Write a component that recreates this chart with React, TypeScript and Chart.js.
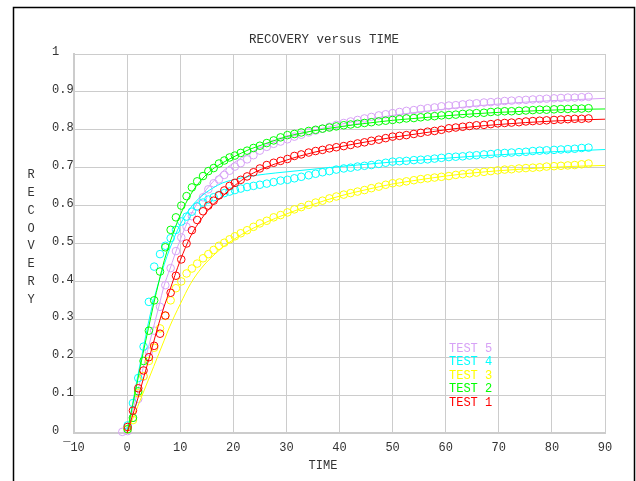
import React, { useEffect, useRef } from "react";
import { Chart, registerables } from "chart.js";

Chart.register(...registerables);

const TITLE = "RECOVERY versus TIME";
const X_TITLE = "TIME";
const Y_TITLE = "RECOVERY";
const X_TICK_LABELS = ["¯10", "0", "10", "20", "30", "40", "50", "60", "70", "80", "90"];
const Y_TICK_LABELS = ["0", "0.1", "0.2", "0.3", "0.4", "0.5", "0.6", "0.7", "0.8", "0.9", "1"];
const LEGEND_NAMES = ["TEST 1", "TEST 2", "TEST 3", "TEST 4", "TEST 5"];

// measured sample times (shared by all tests)
const TIME = [
  -0.9, 0.1, 1.1, 2.1, 3.1, 4.1, 5.1, 6.2, 7.2, 8.2,
  9.2, 10.2, 11.2, 12.2, 13.2, 14.3, 15.3, 16.3, 17.3, 18.3,
  19.3, 20.3, 21.4, 22.6, 23.8, 25.0, 26.3, 27.6, 28.9, 30.2,
  31.5, 32.8, 34.2, 35.5, 36.8, 38.1, 39.4, 40.8, 42.1, 43.4,
  44.7, 46.0, 47.4, 48.7, 50.0, 51.3, 52.6, 54.0, 55.3, 56.6,
  57.9, 59.2, 60.6, 61.9, 63.2, 64.5, 65.8, 67.2, 68.5, 69.8,
  71.1, 72.4, 73.8, 75.1, 76.4, 77.7, 79.0, 80.4, 81.7, 83.0,
  84.3, 85.6, 86.9,
];

const TEST1 = [
  null, 0.016, 0.059, 0.118, 0.165, 0.2, 0.23, 0.262, 0.31, 0.37,
  0.415, 0.458, 0.5, 0.535, 0.562, 0.585, 0.6, 0.613, 0.627, 0.64,
  0.652, 0.66, 0.668, 0.677, 0.688, 0.698, 0.707, 0.713, 0.718, 0.723,
  0.731, 0.735, 0.74, 0.744, 0.747, 0.751, 0.754, 0.757, 0.76, 0.764,
  0.767, 0.771, 0.774, 0.778, 0.782, 0.784, 0.786, 0.789, 0.792, 0.795,
  0.797, 0.8, 0.804, 0.806, 0.808, 0.81, 0.812, 0.813, 0.815, 0.817,
  0.818, 0.819, 0.82, 0.822, 0.823, 0.824, 0.825, 0.826, 0.827, 0.828,
  0.829, 0.829, 0.83,
];
const TEST2 = [
  null, 0.01, 0.04, 0.11, 0.19, 0.27, 0.35, 0.426, 0.49, 0.536,
  0.569, 0.6, 0.625, 0.648, 0.664, 0.678, 0.691, 0.699, 0.711, 0.719,
  0.727, 0.732, 0.739, 0.745, 0.752, 0.758, 0.765, 0.772, 0.78, 0.786,
  0.789, 0.793, 0.797, 0.8, 0.803, 0.806, 0.809, 0.812, 0.814, 0.816,
  0.818, 0.82, 0.822, 0.824, 0.826, 0.828, 0.83, 0.831, 0.833, 0.835,
  0.836, 0.838, 0.839, 0.84, 0.842, 0.843, 0.844, 0.845, 0.847, 0.848,
  0.849, 0.849, 0.85, 0.851, 0.852, 0.853, 0.853, 0.854, 0.855, 0.855,
  0.856, 0.856, 0.857,
];
const TEST3 = [
  null, 0.01, 0.034, 0.105, 0.15, 0.19, 0.225, 0.276, 0.309, 0.35,
  0.382, 0.4, 0.421, 0.434, 0.447, 0.461, 0.472, 0.483, 0.494, 0.502,
  0.511, 0.519, 0.527, 0.535, 0.544, 0.553, 0.56, 0.569, 0.575, 0.582,
  0.59, 0.596, 0.602, 0.608, 0.613, 0.619, 0.624, 0.629, 0.633, 0.637,
  0.641, 0.646, 0.65, 0.655, 0.659, 0.661, 0.664, 0.667, 0.67, 0.672,
  0.674, 0.676, 0.678, 0.681, 0.683, 0.685, 0.687, 0.689, 0.691, 0.693,
  0.695, 0.696, 0.698, 0.699, 0.7, 0.701, 0.703, 0.704, 0.705, 0.706,
  0.707, 0.709, 0.711,
];
const TEST4 = [
  null, 0.02, 0.079, 0.145, 0.228, 0.346, 0.439, 0.472, 0.494, 0.514,
  0.536, 0.558, 0.571, 0.584, 0.598, 0.608, 0.616, 0.622, 0.628, 0.633,
  0.637, 0.641, 0.645, 0.649, 0.652, 0.655, 0.658, 0.662, 0.666, 0.668,
  0.672, 0.676, 0.68, 0.684, 0.688, 0.691, 0.695, 0.698, 0.7, 0.703,
  0.705, 0.707, 0.71, 0.713, 0.716, 0.717, 0.718, 0.72, 0.721, 0.722,
  0.724, 0.726, 0.728, 0.729, 0.73, 0.732, 0.733, 0.735, 0.736, 0.738,
  0.739, 0.74, 0.741, 0.742, 0.744, 0.745, 0.746, 0.747, 0.748, 0.749,
  0.75, 0.752, 0.753,
];
const TEST5 = [
  0.003, 0.005, 0.04, 0.09, 0.149, 0.215, 0.27, 0.333, 0.39, 0.435,
  0.48, 0.516, 0.544, 0.572, 0.597, 0.622, 0.643, 0.659, 0.669, 0.681,
  0.692, 0.703, 0.712, 0.722, 0.733, 0.745, 0.755, 0.763, 0.769, 0.775,
  0.782, 0.787, 0.793, 0.798, 0.803, 0.808, 0.813, 0.818, 0.822, 0.826,
  0.83, 0.834, 0.838, 0.841, 0.844, 0.847, 0.85, 0.852, 0.855, 0.857,
  0.859, 0.862, 0.864, 0.865, 0.867, 0.869, 0.87, 0.872, 0.873, 0.874,
  0.876, 0.877, 0.878, 0.879, 0.88, 0.881, 0.882, 0.883, 0.884, 0.885,
  0.885, 0.886, 0.887,
];

// fitted curves
const FIT_TIME = [0, 1, 2, 3, 4, 5, 6, 7, 8, 10, 12, 14, 16, 18, 20, 23, 26, 30, 35, 40, 45, 50, 55, 60, 65, 70, 75, 80, 85, 90];
const FIT1 = [0, 0.045, 0.09, 0.14, 0.19, 0.24, 0.29, 0.335, 0.375, 0.455, 0.52, 0.565, 0.6, 0.625, 0.65, 0.68, 0.7, 0.72, 0.74, 0.755, 0.768, 0.78, 0.79, 0.8, 0.808, 0.814, 0.819, 0.823, 0.826, 0.828];
const FIT2 = [0, 0.07, 0.14, 0.21, 0.275, 0.34, 0.4, 0.455, 0.5, 0.575, 0.63, 0.668, 0.695, 0.713, 0.728, 0.748, 0.763, 0.782, 0.797, 0.808, 0.817, 0.825, 0.831, 0.837, 0.842, 0.846, 0.849, 0.852, 0.854, 0.855];
const FIT3 = [0, 0.035, 0.07, 0.105, 0.14, 0.175, 0.21, 0.245, 0.28, 0.34, 0.395, 0.435, 0.465, 0.49, 0.51, 0.535, 0.555, 0.578, 0.603, 0.625, 0.642, 0.657, 0.668, 0.678, 0.686, 0.692, 0.697, 0.701, 0.704, 0.706];
const FIT4 = [0, 0.075, 0.15, 0.22, 0.29, 0.35, 0.4, 0.445, 0.485, 0.55, 0.595, 0.625, 0.645, 0.66, 0.668, 0.677, 0.683, 0.689, 0.696, 0.703, 0.709, 0.715, 0.72, 0.725, 0.73, 0.734, 0.738, 0.742, 0.745, 0.748];
const FIT5 = [0, 0.055, 0.11, 0.17, 0.225, 0.28, 0.335, 0.39, 0.43, 0.51, 0.575, 0.625, 0.66, 0.69, 0.712, 0.738, 0.758, 0.778, 0.798, 0.814, 0.827, 0.838, 0.847, 0.855, 0.862, 0.868, 0.873, 0.877, 0.88, 0.883];

const COLORS = ["#ff0000", "#00ff00", "#ffff00", "#00ffff", "#d7a2f6"];
const SERIES = [TEST1, TEST2, TEST3, TEST4, TEST5];
const FITS = [FIT1, FIT2, FIT3, FIT4, FIT5];

const FONT_FAMILY = "'Courier New', 'Liberation Mono', monospace";
const TEXT_COLOR = "#333333";
const GRID_COLOR = "#cccccc";

const decorPlugin = {
  id: "decor",
  afterDraw(chart: any) {
    const ctx = chart.ctx;
    const area = chart.chartArea;
    ctx.save();
    // outer frame
    ctx.strokeStyle = "#000000";
    ctx.lineWidth = 1.5;
    ctx.beginPath();
    ctx.moveTo(13.5, 481);
    ctx.lineTo(13.5, 7.5);
    ctx.lineTo(634.5, 7.5);
    ctx.lineTo(634.5, 481);
    ctx.stroke();

    ctx.fillStyle = TEXT_COLOR;
    ctx.font = `12.5px ${FONT_FAMILY}`;
    ctx.textAlign = "center";
    ctx.textBaseline = "middle";
    ctx.fillText(TITLE, 324, 40);
    ctx.font = `12px ${FONT_FAMILY}`;
    ctx.fillText(X_TITLE, 323, area.bottom + 33);
    const letters = Y_TITLE.split("");
    letters.forEach((ch, i) => ctx.fillText(ch, 31, 175 + i * 17.8));

    // legend (TEST 5 on top)
    ctx.textAlign = "left";
    ctx.font = `12px ${FONT_FAMILY}`;
    for (let k = LEGEND_NAMES.length - 1, row = 0; k >= 0; k--, row++) {
      ctx.fillStyle = COLORS[k];
      ctx.fillText(LEGEND_NAMES[k], 449, 348.5 + row * 13.6);
    }
    ctx.restore();
  },
};

export default function App() {
  const ref = useRef<HTMLCanvasElement | null>(null);
  useEffect(() => {
    if (!ref.current) return;
    const datasets: any[] = [];
    SERIES.forEach((vals, s) => {
      datasets.push({
        type: "line",
        data: FIT_TIME.map((t, i) => ({ x: t, y: FITS[s][i] })),
        borderColor: COLORS[s],
        borderWidth: 1,
        pointRadius: 0,
        fill: false,
        cubicInterpolationMode: "monotone",
        clip: false,
      });
      datasets.push({
        type: "scatter",
        data: TIME.map((t, i) => (vals[i] == null ? null : { x: t, y: vals[i] })).filter((p) => p),
        borderColor: COLORS[s],
        backgroundColor: "rgba(0,0,0,0)",
        borderWidth: 1,
        pointRadius: 3.8,
        showLine: false,
        clip: false,
      });
    });
    const chart = new Chart(ref.current, {
      type: "scatter",
      data: { datasets },
      options: {
        responsive: false,
        animation: false,
        events: [],
        devicePixelRatio: 1,
        layout: { padding: { left: 52, top: 54, right: 31, bottom: 0 } },
        plugins: { legend: { display: false }, title: { display: false }, tooltip: { enabled: false } },
        scales: {
          x: {
            type: "linear",
            min: -10,
            max: 90,
            afterFit: (s: any) => { s.height = 48; },
            ticks: {
              stepSize: 10,
              autoSkip: false,
              maxRotation: 0,
              padding: 8,
              color: TEXT_COLOR,
              font: { family: FONT_FAMILY, size: 12 },
              callback: (_v: any, i: number) => X_TICK_LABELS[i],
            },
            grid: { color: GRID_COLOR, lineWidth: 1, drawTicks: false },
            border: { color: GRID_COLOR, width: 2 },
          },
          y: {
            type: "linear",
            min: 0,
            max: 1,
            afterFit: (s: any) => { s.width = 22; },
            ticks: {
              stepSize: 0.1,
              autoSkip: false,
              crossAlign: "far",
              labelOffset: -2,
              padding: 0,
              color: TEXT_COLOR,
              font: { family: FONT_FAMILY, size: 12 },
              callback: (_v: any, i: number) => Y_TICK_LABELS[i],
            },
            grid: { color: GRID_COLOR, lineWidth: 1, drawTicks: false },
            border: { color: GRID_COLOR, width: 2 },
          },
        },
      } as any,
      plugins: [decorPlugin],
    });
    return () => chart.destroy();
  }, []);
  return (
    <div style={{ position: "fixed", left: 0, top: 0, width: 636, height: 481, background: "#ffffff" }}>
      <canvas ref={ref} width={636} height={481} style={{ width: 636, height: 481, display: "block" }} />
    </div>
  );
}
